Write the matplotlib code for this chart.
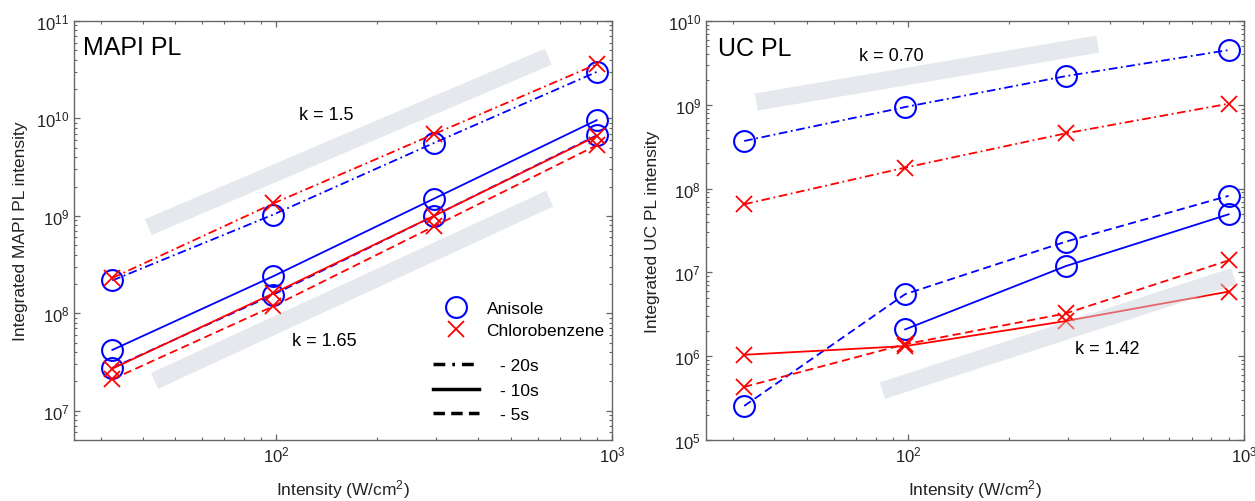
import matplotlib
matplotlib.use("Agg")
import matplotlib.pyplot as plt
from matplotlib.lines import Line2D

plt.rcParams["font.family"] = ["Liberation Sans", "DejaVu Sans"]
plt.rcParams["mathtext.fontset"] = "custom"
plt.rcParams["mathtext.rm"] = "Liberation Sans"
plt.rcParams["mathtext.it"] = "Liberation Sans:italic"
plt.rcParams["lines.dashed_pattern"] = (4.5, 2.5)
plt.rcParams["lines.dashdot_pattern"] = (4.8, 2.0, 1.0, 2.0)

# excitation intensity (W/cm^2)
intensity = [32.5, 98, 295, 900]

# MAPI PL
mapi_ani_20 = [2.17e8, 1.03e9, 5.6e9, 3.0e10]
mapi_cb_20 = [2.3e8, 1.34e9, 6.9e9, 3.6e10]
mapi_ani_10 = [4.2e7, 2.4e8, 1.5e9, 9.6e9]
mapi_ani_5 = [2.75e7, 1.55e8, 1.0e9, 6.7e9]
mapi_cb_10 = [2.7e7, 1.6e8, 1.0e9, 6.6e9]
mapi_cb_5 = [2.1e7, 1.18e8, 7.8e8, 5.3e9]

# UC PL
uc_ani_20 = [3.7e8, 9.4e8, 2.2e9, 4.5e9]
uc_cb_20 = [6.5e7, 1.78e8, 4.57e8, 1.03e9]
uc_ani_5 = [2.55e5, 5.5e6, 2.33e7, 8.2e7]
uc_ani_10 = [None, 2.09e6, 1.19e7, 4.93e7]
uc_cb_5 = [4.3e5, 1.39e6, 3.24e6, 1.39e7]
uc_cb_10 = [1.04e6, 1.32e6, 2.63e6, 5.9e6]

# guide bands (slope references)
mapi_band1_x = [41.6, 646]
mapi_band1_y = [7.66e8, 4.3e10]
mapi_band2_x = [43.4, 652]
mapi_band2_y = [2.02e7, 1.5e9]
uc_band1_x = [35.3, 367]
uc_band1_y = [1.08e9, 5.3e9]
uc_band2_x = [83.8, 933]
uc_band2_y = [3.88e5, 8.97e6]

BLUE = "#0000ff"
RED = "#ff0000"
BAND = "#cdd2dc"
TXT = "#222222"

fig = plt.figure(figsize=(12.55, 5.02), dpi=100)
ax1 = fig.add_axes([0.059, 0.1215, 0.4287, 0.8347])
ax2 = fig.add_axes([0.5625, 0.1215, 0.4287, 0.8347])


def series(ax, x, y, color, ls, marker):
    pts = [(a, b) for a, b in zip(x, y) if b is not None]
    xs = [p[0] for p in pts]
    ys = [p[1] for p in pts]
    if marker == "o":
        ax.plot(xs, ys, ls=ls, color=color, lw=1.3, marker="o", ms=15,
                mfc="none", mec=color, mew=1.5, zorder=3)
    else:
        ax.plot(xs, ys, ls=ls, color=color, lw=1.3, marker="x", ms=11,
                mec=color, mew=1.3, zorder=3)


def band(ax, x, y):
    ax.plot(x, y, color=BAND, lw=12.5, alpha=0.5, solid_capstyle="butt", zorder=4)


def style(ax, ylabel, ylim):
    ax.set_xscale("log")
    ax.set_yscale("log")
    ax.set_xlim(25, 1000)
    ax.set_ylim(*ylim)
    ax.tick_params(which="both", direction="in", top=True, right=True,
                   colors="#666666", labelcolor=TXT, labelsize=12)
    ax.tick_params(which="major", length=4, width=0.9)
    ax.tick_params(which="minor", length=2.5, width=0.8)
    for s in ax.spines.values():
        s.set_color("#666666")
        s.set_linewidth(1.0)
    ax.set_xlabel("Intensity (W/cm$^{2}$)", fontsize=12.5, color=TXT, labelpad=9)
    ax.set_ylabel(ylabel, fontsize=12.5, color=TXT, labelpad=6)


# ---- MAPI PL ----
series(ax1, intensity, mapi_ani_20, BLUE, "-.", "o")
series(ax1, intensity, mapi_cb_20, RED, "-.", "x")
series(ax1, intensity, mapi_ani_10, BLUE, "-", "o")
series(ax1, intensity, mapi_ani_5, BLUE, "--", "o")
series(ax1, intensity, mapi_cb_10, RED, "-", "x")
series(ax1, intensity, mapi_cb_5, RED, "--", "x")
band(ax1, mapi_band1_x, mapi_band1_y)
band(ax1, mapi_band2_x, mapi_band2_y)
style(ax1, "Integrated MAPI PL intensity", (5e6, 1e11))
ax1.text(0.016, 0.937, "MAPI PL", transform=ax1.transAxes, fontsize=18,
         va="center", ha="left", color="black")
ax1.text(141, 1.1e10, "k = 1.5", fontsize=13, ha="center", va="center", color="black")
ax1.text(139, 5.3e7, "k = 1.65", fontsize=13, ha="center", va="center", color="black")

mk_handles = [
    Line2D([], [], ls="none", marker="o", ms=15, mfc="none", mec=BLUE, mew=1.5),
    Line2D([], [], ls="none", marker="x", ms=11, mec=RED, mew=1.3),
]
leg1 = ax1.legend(mk_handles, ["Anisole", "Chlorobenzene"], loc="upper left",
                  bbox_to_anchor=(0.686, 0.333), frameon=False, fontsize=12.5,
                  handlelength=1.5, handletextpad=1.0, borderpad=0,
                  borderaxespad=0, labelspacing=0.42)
ax1.add_artist(leg1)
ls_handles = [
    Line2D([], [], color="black", lw=2.5, dashes=(3.4, 2.0, 0.8, 2.0)),
    Line2D([], [], ls="-", color="black", lw=2.5),
    Line2D([], [], color="black", lw=2.5, dashes=(3.3, 1.8)),
]
ax1.legend(ls_handles, ["- 20s", "- 10s", "- 5s"], loc="upper left",
           bbox_to_anchor=(0.667, 0.195), frameon=False, fontsize=12.5,
           handlelength=2.64, handletextpad=1.2, borderpad=0,
           borderaxespad=0, labelspacing=0.52)

# ---- UC PL ----
series(ax2, intensity, uc_ani_20, BLUE, "-.", "o")
series(ax2, intensity, uc_cb_20, RED, "-.", "x")
series(ax2, intensity, uc_ani_5, BLUE, "--", "o")
series(ax2, intensity, uc_ani_10, BLUE, "-", "o")
series(ax2, intensity, uc_cb_5, RED, "--", "x")
series(ax2, intensity, uc_cb_10, RED, "-", "x")
band(ax2, uc_band1_x, uc_band1_y)
band(ax2, uc_band2_x, uc_band2_y)
style(ax2, "Integrated UC PL intensity", (1e5, 1e10))
ax2.text(0.0226, 0.935, "UC PL", transform=ax2.transAxes, fontsize=18,
         va="center", ha="left", color="black")
ax2.text(89, 3.85e9, "k = 0.70", fontsize=13, ha="center", va="center", color="black")
ax2.text(393, 1.22e6, "k = 1.42", fontsize=13, ha="center", va="center", color="black")

fig.savefig("out.png", dpi=100)
